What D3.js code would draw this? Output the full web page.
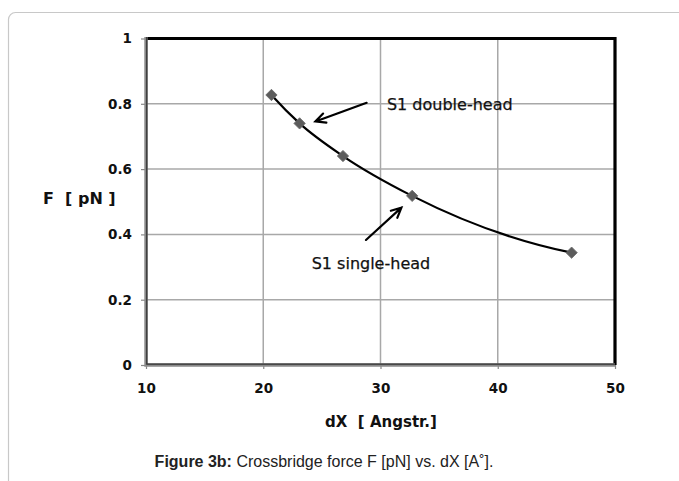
<!DOCTYPE html>
<html><head><meta charset="utf-8">
<script src="https://cdn.jsdelivr.net/npm/d3@7"></script>
<style>body{margin:0;background:#fff;}svg{display:block;}</style>
</head><body>
<svg id="c" width="679" height="481"></svg>
<script>
// ---- data ----
const dxValues = [20.7, 23.1, 26.8, 32.7, 46.3];
const forceValues = [0.827, 0.740, 0.640, 0.518, 0.344];
const xTicks = [10, 20, 30, 40, 50];
const yTicks = [0, 0.2, 0.4, 0.6, 0.8, 1];
const yTickLabels = ["0", "0.2", "0.4", "0.6", "0.8", "1"];
const annotationTexts = ["S1 double-head", "S1 single-head"];
const annotationTextPos = [[30.55, 0.781], [24.13, 0.294]];
const arrowFrom = [[28.82, 0.803], [28.76, 0.383]];
const arrowTo = [[24.45, 0.746], [31.78, 0.482]];
const xTitle = "dX  [ Angstr.]";
const yTitle = "F  [ pN ]";

const svg = d3.select("#c");
const L = 146, R = 615, T = 38.5, B = 365;
const x = d3.scaleLinear().domain([10, 50]).range([L, R]);
const y = d3.scaleLinear().domain([0, 1]).range([B, T]);
const FONT = "'DejaVu Sans', Verdana, sans-serif";

// outer frame
svg.append("rect").attr("x", 8.5).attr("y", 12.5).attr("width", 700).attr("height", 500)
  .attr("rx", 7).attr("fill", "none").attr("stroke", "#c8c8c8").attr("stroke-width", 1.2);

// gridlines
const g = svg.append("g");
g.selectAll(".vg").data(xTicks.slice(1, -1)).join("line")
  .attr("x1", d => x(d)).attr("x2", d => x(d)).attr("y1", T).attr("y2", B)
  .attr("stroke", "#a8a8a8").attr("stroke-width", 1.5);
g.selectAll(".hg").data(yTicks.slice(1, -1)).join("line")
  .attr("y1", d => y(d)).attr("y2", d => y(d)).attr("x1", L).attr("x2", R)
  .attr("stroke", "#a8a8a8").attr("stroke-width", 1.5);

// top/right border
svg.append("path").attr("d", `M${L},${T}H${R}V${B}`).attr("fill", "none")
  .attr("stroke", "#000").attr("stroke-width", 3.2);

// axes via d3
const yAxis = d3.axisLeft(y).tickValues(yTicks).tickFormat((d, i) => yTickLabels[i]).tickSize(5).tickPadding(9);
const xAxis = d3.axisBottom(x).tickValues(xTicks).tickFormat(d3.format("d")).tickSize(4).tickPadding(14);
const ya = svg.append("g").attr("transform", `translate(${L},0)`).call(yAxis);
const xa = svg.append("g").attr("transform", `translate(0,${B})`).call(xAxis);
[ya, xa].forEach(a => {
  a.select(".domain").remove();
  a.selectAll(".tick line").attr("stroke", "#888").attr("stroke-width", 1.2);
  a.selectAll("text").attr("font-family", FONT).attr("font-weight", "bold")
    .attr("font-size", 13.5).attr("fill", "#111");
});
// axis lines (grey/dark double look)
svg.append("path").attr("d", `M${L},${T - 1.5}V${B}H${R}`).attr("fill", "none")
  .attr("stroke", "#8a8a8a").attr("stroke-width", 3.4);
svg.append("path").attr("d", `M${L + 0.8},${T - 1.5}V${B - 0.8}H${R}`).attr("fill", "none")
  .attr("stroke", "#333").attr("stroke-width", 1.3);

// smoothed line through points (cubic Hermite, parabolic end tangents)
const pts = dxValues.map((d, i) => [d, forceValues[i]]);
const P = pts.map(d => [x(d[0]), y(d[1])]);
const n = P.length;
const sec = d3.range(n - 1).map(i => (P[i + 1][1] - P[i][1]) / (P[i + 1][0] - P[i][0]));
const tan = new Array(n);
for (let i = 1; i < n - 1; i++) {
  const h0 = P[i][0] - P[i - 1][0], h1 = P[i + 1][0] - P[i][0];
  tan[i] = (sec[i - 1] * h1 + sec[i] * h0) / (h0 + h1);
}
tan[0] = 2 * sec[0] - tan[1];
tan[n - 1] = 2 * sec[n - 2] - tan[n - 2];
const cp = d3.path();
cp.moveTo(P[0][0], P[0][1]);
for (let i = 0; i < n - 1; i++) {
  const h = (P[i + 1][0] - P[i][0]) / 3;
  cp.bezierCurveTo(P[i][0] + h, P[i][1] + h * tan[i], P[i + 1][0] - h, P[i + 1][1] - h * tan[i + 1], P[i + 1][0], P[i + 1][1]);
}
svg.append("path").attr("d", cp.toString())
  .attr("fill", "none").attr("stroke", "#000").attr("stroke-width", 2.2);

// diamond markers
svg.append("g").selectAll("path").data(pts).join("path")
  .attr("d", d3.symbol(d3.symbolSquare, 64))
  .attr("transform", d => `translate(${x(d[0])},${y(d[1])}) rotate(45)`)
  .attr("fill", "#5c5c5c").attr("stroke", "#6a6a6a").attr("stroke-width", 0.8);

// annotation arrows
arrowFrom.forEach((f, i) => {
  const x1 = x(f[0]), y1 = y(f[1]), x2 = x(arrowTo[i][0]), y2 = y(arrowTo[i][1]);
  const ang = Math.atan2(y2 - y1, x2 - x1), hl = 11, sp = 0.45;
  const a1 = [x2 - hl * Math.cos(ang - sp), y2 - hl * Math.sin(ang - sp)];
  const a2 = [x2 - hl * Math.cos(ang + sp), y2 - hl * Math.sin(ang + sp)];
  svg.append("path").attr("d", `M${x1},${y1}L${x2},${y2}M${a1[0]},${a1[1]}L${x2},${y2}L${a2[0]},${a2[1]}`)
    .attr("fill", "none").attr("stroke", "#000").attr("stroke-width", 2.2).attr("stroke-linecap", "round");
});
svg.append("g").selectAll("text").data(annotationTexts).join("text")
  .attr("x", (d, i) => x(annotationTextPos[i][0])).attr("y", (d, i) => y(annotationTextPos[i][1]))
  .attr("font-family", FONT).attr("font-size", 16).attr("fill", "#111")
  .attr("stroke", "#111").attr("stroke-width", 0.25)
  .text(d => d);

// axis titles
svg.append("text").attr("x", 381).attr("y", 427).attr("text-anchor", "middle")
  .attr("font-family", FONT).attr("font-weight", "bold").attr("font-size", 15)
  .attr("fill", "#111").style("white-space", "pre").text(xTitle);
svg.append("text").attr("x", 43).attr("y", 204)
  .attr("font-family", FONT).attr("font-weight", "bold").attr("font-size", 16)
  .attr("fill", "#111").style("white-space", "pre").text(yTitle);

// caption
const cap = svg.append("text").attr("x", 324).attr("y", 467).attr("text-anchor", "middle")
  .attr("font-family", "'Liberation Sans', Arial, sans-serif").attr("font-size", 16).attr("fill", "#222");
cap.append("tspan").attr("font-weight", "bold").text("Figure 3b:");
cap.append("tspan").text(" Crossbridge force F [pN] vs. dX [A˚].");
</script>
</body></html>
